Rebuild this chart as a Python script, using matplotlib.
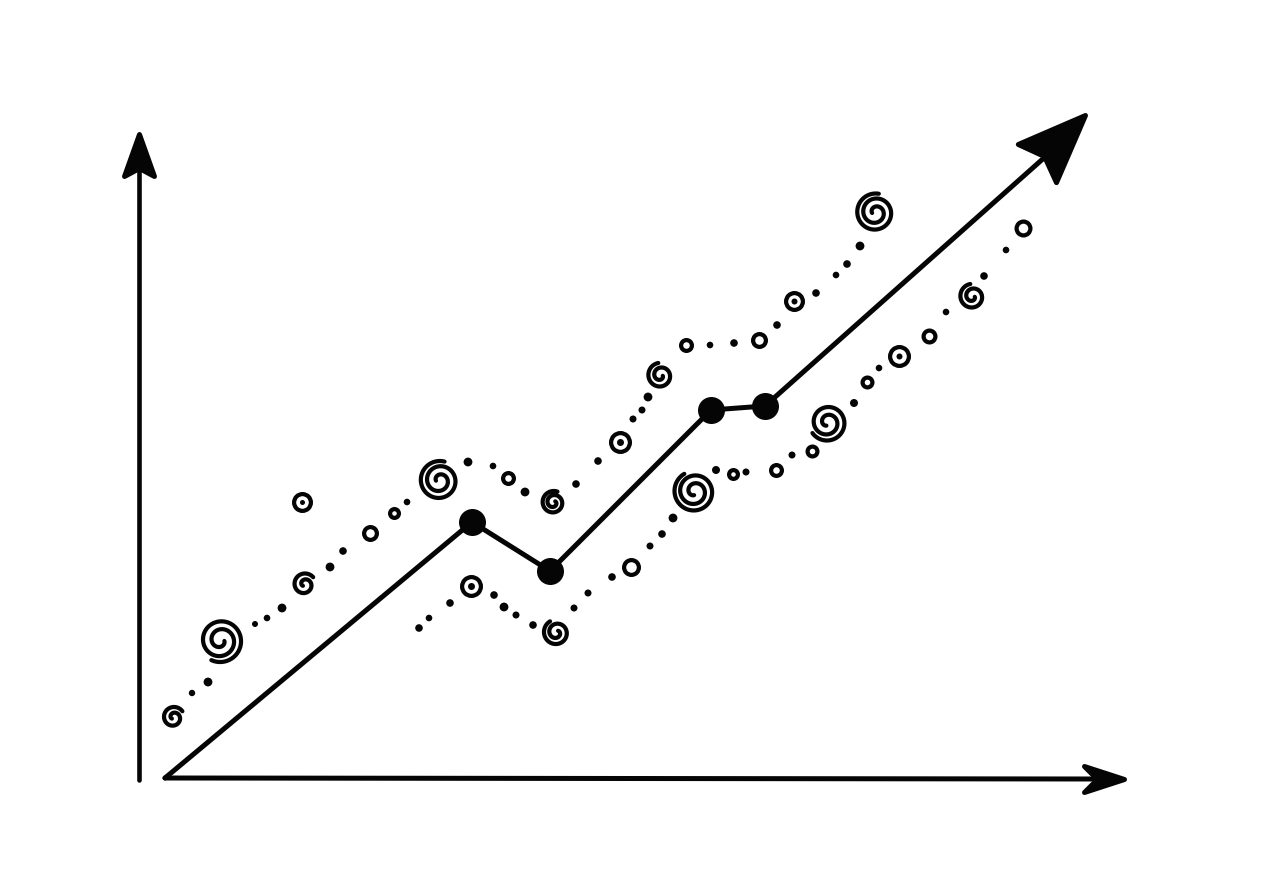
import numpy as np
import matplotlib
matplotlib.use("Agg")
import matplotlib.pyplot as plt
from matplotlib.markers import MarkerStyle
from matplotlib.path import Path

# Values measured from the origin of the two axes
trend_x = [26, 333, 411, 572, 626, 906]
trend_y = [0, 256, 207, 368, 372, 621]
node_x = [333, 411, 572, 626]
node_y = [256, 207, 368, 372]

upper_dot_x = [53, 69, 116, 128, 143, 191, 204, 268, 329, 354, 386, 437, 459, 494, 503, 509, 571, 595, 638, 677, 697, 708, 721]
upper_dot_y = [85, 96, 154, 160, 170, 211, 227, 276, 316, 312, 286, 294, 317, 359, 368, 381, 433, 435, 453, 485, 503, 514, 532]
upper_ring_x = [163, 231, 255, 369, 481, 547, 620, 655]
upper_ring_y = [276, 245, 265, 300, 336, 433, 438, 477]
upper_spiral_x = [34, 81, 165, 300, 414, 521, 736]
upper_spiral_y = [61, 138, 194, 298, 276, 403, 566]

lower_dot_x = [280, 290, 311, 355, 365, 377, 394, 435, 449, 473, 511, 523, 534, 577, 607, 653, 715, 740, 807, 845, 867]
lower_dot_y = [150, 160, 175, 183, 171, 163, 153, 170, 185, 201, 232, 244, 260, 308, 306, 323, 375, 410, 466, 502, 528]
lower_ring_x = [332, 492, 594, 637, 673, 728, 760, 790, 884]
lower_ring_y = [192, 211, 304, 308, 327, 396, 422, 442, 550]
lower_spiral_x = [417, 555, 688, 833]
lower_spiral_y = [146, 287, 356, 482]

# Sizes in pixels, same order as the lists above
upper_dot_r = [3.2, 4.4, 3, 3.3, 4.4, 4.4, 3.8, 3.3, 4.4, 3.3, 4.4, 3.8, 3.8, 3.5, 3.5, 4.4, 3.3, 3.8, 3.8, 3.8, 3.3, 3.8, 4.4]
upper_ring_r = [10.5, 8.5, 6.5, 7.5, 11.5, 7.5, 8.5, 10.5]
upper_ring_hole = [2.5, 0, 0, 0, 3.5, 0, 0, 3]
upper_spiral_r = [10.5, 21.5, 11, 19.5, 11.5, 12.5, 19]
upper_spiral_turns = [1.5, 2.3, 1.5, 2.3, 1.9, 1.7, 2.3]
upper_spiral_start = [35, 245, 40, 75, 70, 100, 80]

lower_dot_r = [3.8, 3.3, 3.8, 3.8, 4.4, 3.5, 3.8, 3.5, 3.5, 3.8, 3.5, 3.8, 4.4, 4, 3.5, 3.5, 4, 3.3, 3.3, 3.8, 3.3]
lower_ring_r = [11.5, 9.5, 6.5, 7.5, 7, 7, 11.5, 8, 9]
lower_ring_hole = [3.5, 0, 0, 0, 0, 0, 3, 0, 0]
lower_spiral_r = [12.5, 20, 18, 12.5]
lower_spiral_turns = [1.8, 2.4, 2.1, 1.7]
lower_spiral_start = [120, 120, 215, 100]

DPI = 100
INK = "#050505"


def to_points(px):
    return px * 72 / DPI


def spiral_marker(turns, start):
    # outer end first, winding inwards, stays wide on the outer lap
    theta = np.linspace(0, 2 * np.pi * turns, 120)
    t = theta / theta[-1]
    r = 1 - 0.82 * t ** 1.4
    verts = np.column_stack([r * np.cos(theta + np.radians(start)), r * np.sin(theta + np.radians(start))])
    return MarkerStyle(Path(verts), fillstyle="none", capstyle="round", joinstyle="round")


def draw_head(ax, tip_x, tip_y, angle, length, half, notch):
    # the tip sits at the marker origin, the barbs trail behind it
    shape = np.array([[0, 0], [-length, half], [-notch, 0], [-length, -half], [0, 0]], dtype=float)
    a = np.radians(angle)
    rot = np.array([[np.cos(a), -np.sin(a)], [np.sin(a), np.cos(a)]])
    verts = shape @ rot.T
    size = 2 * np.abs(verts).max()
    marker = MarkerStyle(Path(verts, closed=True), joinstyle="round")
    ax.plot([tip_x], [tip_y], marker=marker, ms=to_points(size), color=INK, mew=to_points(5), mec=INK, zorder=4)


def draw_series(ax, dot_x, dot_y, dot_r, ring_x, ring_y, ring_r, ring_hole, sp_x, sp_y, sp_r, sp_turns, sp_start):
    ax.scatter(dot_x, dot_y, s=[(2 * to_points(r)) ** 2 for r in dot_r], color=INK, linewidths=0, zorder=3)
    for x, y, r, hole in zip(ring_x, ring_y, ring_r, ring_hole):
        ax.plot([x], [y], marker="o", ms=to_points(2 * r - 4.2), mfc="white", mec=INK, mew=to_points(4.2), zorder=3)
        if hole:
            ax.plot([x], [y], marker="o", ms=to_points(2 * hole), color=INK, mew=0, zorder=3)
    for x, y, r, turns, start in zip(sp_x, sp_y, sp_r, sp_turns, sp_start):
        ax.plot([x], [y], marker=spiral_marker(turns, start), ms=to_points(2 * r), mec=INK, mew=to_points(4.2), zorder=3)


fig = plt.figure(figsize=(12.8, 8.96), dpi=DPI)
ax = fig.add_axes([0, 0, 1, 1])
ax.set_xlim(-139, 1141)
ax.set_ylim(-118, 778)
ax.axis("off")

# axes
ax.plot([0, 0], [-2, 610], color=INK, lw=to_points(4.6), solid_capstyle="round")
ax.plot([26, 955], [0, -1], color=INK, lw=to_points(5), solid_capstyle="round")
draw_head(ax, 0, 644, 90, 42, 15, 34)
draw_head(ax, 985, -1, 0, 40, 13, 27)

# main trend line
ax.plot(trend_x, trend_y, color=INK, lw=to_points(5), solid_capstyle="round", solid_joinstyle="round", zorder=2)
ax.scatter(node_x, node_y, s=(2 * to_points(13.5)) ** 2, color=INK, linewidths=0, zorder=3)
draw_head(ax, 946, 663, 45, 68, 27, 58)

draw_series(ax, upper_dot_x, upper_dot_y, upper_dot_r, upper_ring_x, upper_ring_y, upper_ring_r, upper_ring_hole,
            upper_spiral_x, upper_spiral_y, upper_spiral_r, upper_spiral_turns, upper_spiral_start)
draw_series(ax, lower_dot_x, lower_dot_y, lower_dot_r, lower_ring_x, lower_ring_y, lower_ring_r, lower_ring_hole,
            lower_spiral_x, lower_spiral_y, lower_spiral_r, lower_spiral_turns, lower_spiral_start)

fig.savefig("out.png", dpi=DPI, facecolor="white")
